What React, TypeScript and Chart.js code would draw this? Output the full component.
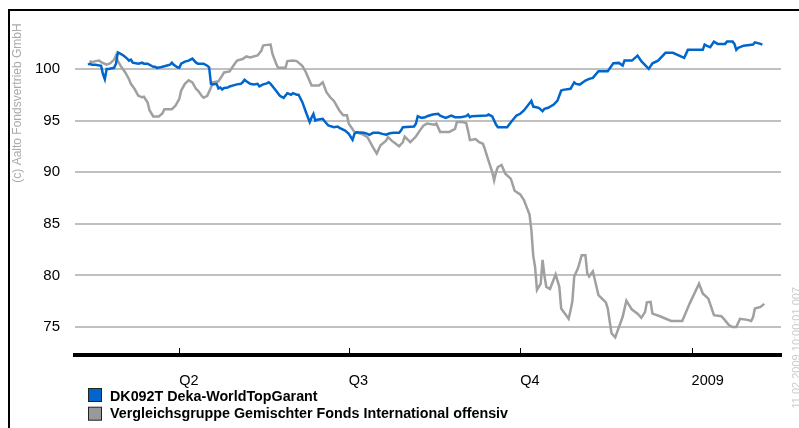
import React, { useEffect, useRef } from "react";
import { Chart, registerables } from "chart.js";

Chart.register(...registerables);

// x values: day number counted from 1 Jan 2008 (day 0)
const fundDays = [42, 43, 44, 46, 49, 50, 51, 52, 53, 56, 57, 58, 59, 61, 63, 64, 65, 66, 69, 71, 72, 74, 76, 77, 78, 79, 81, 84, 86, 87, 88, 90, 91, 92, 94, 96, 98, 100, 101, 104, 106, 107, 108, 109, 111, 112, 113, 114, 115, 117, 118, 120, 122, 124, 125, 126, 127, 129, 131, 133, 134, 136, 138, 139, 140, 142, 145, 147, 149, 151, 152, 154, 155, 157, 159, 161, 162, 163, 164, 165, 168, 169, 171, 174, 176, 177, 180, 182, 184, 185, 186, 190, 192, 193, 195, 198, 200, 202, 204, 206, 209, 210, 211, 217, 218, 219, 221, 223, 224, 227, 230, 231, 234, 237, 239, 242, 245, 246, 247, 248, 256, 257, 259, 261, 262, 267, 269, 272, 274, 276, 279, 280, 281, 284, 286, 287, 289, 292, 294, 296, 297, 301, 303, 304, 306, 309, 311, 313, 316, 321, 324, 327, 329, 330, 334, 337, 339, 343, 345, 348, 352, 356, 362, 364, 372, 373, 374, 376, 378, 380, 384, 385, 388, 389, 390, 391, 394, 399, 400, 403, 404];
const fundValues = [100.4, 100.5, 100.4, 100.4, 100.3, 99.5, 99.0, 100.0, 100.0, 100.1, 100.5, 101.6, 101.5, 101.3, 101.0, 100.8, 100.9, 100.6, 100.5, 100.6, 100.5, 100.5, 100.3, 100.2, 100.2, 100.1, 100.15, 100.3, 100.4, 100.6, 100.4, 100.15, 100.1, 100.5, 100.7, 100.8, 101.0, 100.6, 100.5, 100.5, 100.3, 100.15, 98.55, 98.5, 98.55, 98.1, 98.2, 98.0, 98.15, 98.2, 98.3, 98.4, 98.5, 98.55, 98.7, 98.95, 98.8, 98.55, 98.5, 98.55, 98.3, 98.5, 98.6, 98.7, 98.55, 98.1, 97.4, 97.2, 97.65, 97.5, 97.65, 97.5, 97.5, 96.8, 95.8, 94.85, 95.3, 95.65, 95.0, 95.07, 95.16, 94.93, 94.52, 94.35, 94.42, 94.29, 94.03, 93.71, 93.13, 93.71, 93.87, 93.81, 93.71, 93.62, 93.81, 93.81, 93.71, 93.62, 93.77, 93.81, 93.81, 94.03, 94.35, 94.42, 94.68, 95.42, 95.26, 95.32, 95.42, 95.58, 95.65, 95.48, 95.26, 95.48, 95.32, 95.32, 95.42, 95.58, 95.32, 95.42, 95.48, 95.58, 95.39, 94.61, 94.35, 94.35, 94.84, 95.48, 95.65, 95.97, 96.67, 96.9, 96.35, 96.23, 95.9, 96.13, 96.23, 96.55, 96.93, 97.9, 97.97, 98.07, 98.7, 98.55, 98.48, 98.87, 99.03, 99.13, 99.77, 99.77, 100.54, 100.58, 100.32, 100.8, 100.8, 101.29, 100.74, 100.0, 100.54, 100.8, 101.55, 101.55, 101.06, 101.84, 101.84, 102.35, 102.25, 102.09, 102.64, 102.42, 102.42, 102.64, 102.64, 102.42, 101.84, 102.03, 102.25, 102.35, 102.57, 102.42, 102.35];

const peerDays = [43, 44, 46, 48, 49, 52, 54, 56, 57, 58, 60, 62, 64, 65, 67, 69, 71, 72, 74, 75, 77, 80, 82, 83, 87, 89, 91, 92, 94, 96, 98, 100, 101, 103, 104, 106, 108, 109, 112, 114, 115, 118, 120, 122, 125, 127, 129, 133, 135, 136, 137, 140, 141, 143, 144, 148, 149, 152, 154, 157, 159, 162, 166, 168, 170, 172, 174, 177, 179, 181, 182, 185, 189, 192, 195, 197, 199, 202, 203, 205, 209, 211, 212, 215, 218, 220, 222, 224, 228, 229, 231, 236, 237, 239, 240, 243, 245, 246, 247, 250, 252, 254, 255, 257, 259, 260, 261, 262, 264, 266, 269, 271, 274, 276, 279, 280, 281, 282, 283, 285, 286, 287, 288, 290, 293, 295, 296, 300, 301, 302, 303, 305, 307, 309, 310, 311, 313, 316, 320, 321, 323, 325, 327, 329, 331, 334, 337, 339, 341, 342, 344, 345, 349, 355, 361, 365, 370, 372, 375, 378, 382, 384, 386, 388, 390, 392, 396, 398, 399, 400, 403, 405];
const peerValues = [100.8, 100.65, 100.75, 100.8, 100.65, 100.4, 100.55, 100.9, 101.3, 100.75, 100.15, 99.65, 99.0, 98.55, 98.05, 97.4, 97.25, 97.3, 96.75, 96.0, 95.4, 95.4, 95.7, 96.1, 96.1, 96.45, 97.1, 97.9, 98.55, 98.9, 98.7, 98.05, 97.9, 97.4, 97.2, 97.4, 98.2, 98.7, 98.8, 99.35, 99.65, 99.75, 100.3, 100.8, 100.95, 101.2, 101.1, 101.3, 101.75, 102.25, 102.3, 102.35, 101.45, 100.5, 100.1, 100.1, 100.75, 100.8, 100.75, 100.3, 99.65, 98.4, 98.4, 98.7, 97.75, 97.25, 96.9, 95.95, 95.5, 95.5, 94.7, 93.9, 93.7, 93.4, 92.4, 91.8, 92.6, 93.05, 93.4, 93.05, 92.5, 92.9, 93.45, 92.9, 93.45, 94.0, 94.5, 94.7, 94.6, 94.7, 93.9, 93.9, 94.0, 94.2, 94.85, 94.85, 94.75, 94.0, 93.1, 93.2, 92.9, 92.75, 92.25, 91.1, 90.0, 89.2, 90.0, 90.5, 90.7, 89.85, 89.35, 88.2, 87.85, 87.3, 85.9, 84.4, 81.9, 80.8, 78.6, 79.2, 81.5, 80.0, 78.9, 78.7, 80.1, 78.9, 76.8, 75.8, 76.6, 77.5, 79.9, 80.7, 81.95, 81.95, 80.2, 79.9, 80.4, 78.1, 77.4, 76.8, 74.4, 74.0, 75.0, 76.0, 77.55, 76.7, 76.3, 75.9, 76.45, 77.4, 77.45, 76.3, 76.05, 75.6, 75.6, 77.3, 79.2, 78.25, 77.75, 76.15, 76.05, 75.65, 75.2, 75.0, 75.0, 75.8, 75.7, 75.6, 75.95, 76.8, 76.95, 77.25];

const seriesNames = [
  "DK092T Deka-WorldTopGarant",
  "Vergleichsgruppe Gemischter Fonds International offensiv",
];
const seriesColors = ["#0066cc", "#a0a0a0"];
const legendColors = ["#0066cc", "#999999"];

const xTickDays = [91, 182, 274, 366];
const xTickLabels = ["Q2", "Q3", "Q4", "2009"];
const yTicks = [75, 80, 85, 90, 95, 100];

const copyrightText = "(c) Aalto Fondsvertrieb GmbH";
const stampText = "11.02.2009 10:00:01 007";

const FONT = "'Liberation Sans', Arial, sans-serif";

const decorPlugin = {
  id: "decor",
  afterDraw(chart: any) {
    const ctx = chart.ctx as CanvasRenderingContext2D;
    const xs = chart.scales.x;
    const area = chart.chartArea;
    ctx.save();
    // frame
    ctx.fillStyle = "#000";
    ctx.fillRect(8, 9, 791, 2);
    ctx.fillRect(8, 9, 2, 419);
    // inward tick marks
    ctx.strokeStyle = "#000";
    ctx.lineWidth = 1;
    xTickDays.forEach((d) => {
      const px = Math.round(xs.getPixelForValue(d)) + 0.5;
      ctx.beginPath();
      ctx.moveTo(px, area.bottom - 7);
      ctx.lineTo(px, area.bottom);
      ctx.stroke();
    });
    // copyright text
    ctx.fillStyle = "#aaaaaa";
    ctx.font = `12px ${FONT}`;
    ctx.textBaseline = "middle";
    ctx.textAlign = "center";
    ctx.save();
    ctx.translate(17.5, 103);
    ctx.rotate(-Math.PI / 2);
    ctx.fillText(copyrightText, 0, 0);
    ctx.restore();
    // stamp text
    ctx.fillStyle = "#cccccc";
    ctx.font = `11px ${FONT}`;
    ctx.save();
    ctx.translate(797, 287);
    ctx.rotate(-Math.PI / 2);
    ctx.textAlign = "right";
    ctx.fillText(stampText, 0, 0);
    ctx.restore();
    // legend
    const boxRows = [395, 413.7];
    const textRows = [397, 414];
    boxRows.forEach((cy, i) => {
      ctx.fillStyle = legendColors[i];
      ctx.fillRect(88.5, cy - 6.5, 13, 13);
      ctx.strokeStyle = "#222";
      ctx.lineWidth = 1;
      ctx.strokeRect(88.5, cy - 6.5, 13, 13);
      ctx.fillStyle = "#000";
      ctx.font = `bold 14.3px ${FONT}`;
      ctx.textAlign = "left";
      ctx.textBaseline = "middle";
      ctx.fillText(seriesNames[i], 110, textRows[i]);
    });
    ctx.restore();
  },
};

export default function App() {
  const ref = useRef<HTMLCanvasElement>(null);
  useEffect(() => {
    if (!ref.current) return;
    const chart = new Chart(ref.current, {
      type: "line",
      data: {
        datasets: [
          {
            label: seriesNames[0],
            data: fundDays.map((d, i) => ({ x: d, y: fundValues[i] })),
            borderColor: seriesColors[0],
            borderWidth: 2.5,
            pointRadius: 0,
            tension: 0,
          },
          {
            label: seriesNames[1],
            data: peerDays.map((d, i) => ({ x: d, y: peerValues[i] })),
            borderColor: seriesColors[1],
            borderWidth: 2.5,
            pointRadius: 0,
            tension: 0,
          },
        ],
      },
      options: {
        responsive: false,
        animation: false,
        layout: { padding: { left: 0, right: 18, top: 10, bottom: 0 } },
        plugins: { legend: { display: false }, tooltip: { enabled: false } },
        scales: {
          x: {
            type: "linear",
            min: 35,
            max: 414,
            afterBuildTicks: (s: any) => {
              s.ticks = xTickDays.map((v) => ({ value: v }));
            },
            afterFit: (s: any) => {
              s.height = 73;
              s.paddingLeft = 0;
              s.paddingRight = 0;
            },
            grid: { display: false, drawTicks: false },
            border: { display: true, color: "#000", width: 4 },
            ticks: {
              align: "start",
              autoSkip: false,
              maxRotation: 0,
              padding: 17,
              color: "#000",
              font: { family: FONT, size: 14.5 },
              callback: (v: any) => {
                const i = xTickDays.indexOf(Number(v));
                return i >= 0 ? xTickLabels[i] : "";
              },
            },
          },
          y: {
            type: "linear",
            min: 72.3,
            max: 105.7,
            afterBuildTicks: (s: any) => {
              s.ticks = yTicks.map((v) => ({ value: v }));
            },
            afterFit: (s: any) => {
              s.width = 75;
              s.paddingTop = 0;
              s.paddingBottom = 0;
            },
            grid: { color: "#c0c0c0", lineWidth: 2, drawTicks: false },
            border: { display: false },
            ticks: {
              padding: 15,
              color: "#000",
              font: { family: FONT, size: 15 },
            },
          },
        },
      },
      plugins: [decorPlugin],
    });
    return () => chart.destroy();
  }, []);
  return (
    <div style={{ position: "absolute", left: 0, top: 0, width: 799, height: 428, background: "#fff", overflow: "hidden" }}>
      <canvas ref={ref} width={799} height={428} style={{ width: 799, height: 428, display: "block" }} />
    </div>
  );
}
